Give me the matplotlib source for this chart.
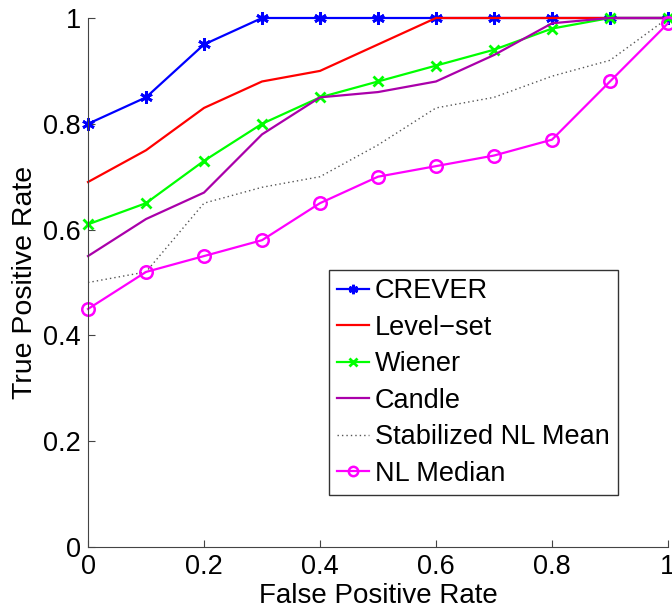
import matplotlib
matplotlib.use("Agg")
import matplotlib.pyplot as plt

plt.rcParams['font.family'] = ['Liberation Sans', 'DejaVu Sans']

fpr = [0.0, 0.1, 0.2, 0.3, 0.4, 0.5, 0.6, 0.7, 0.8, 0.9, 1.0]

crever = [0.80, 0.85, 0.95, 1.00, 1.00, 1.00, 1.00, 1.00, 1.00, 1.00, 1.00]
level_set = [0.69, 0.75, 0.83, 0.88, 0.90, 0.95, 1.00, 1.00, 1.00, 1.00, 1.00]
wiener = [0.61, 0.65, 0.73, 0.80, 0.85, 0.88, 0.91, 0.94, 0.98, 1.00, 1.00]
candle = [0.55, 0.62, 0.67, 0.78, 0.85, 0.86, 0.88, 0.93, 0.99, 1.00, 1.00]
stab_nl_mean = [0.50, 0.52, 0.65, 0.68, 0.70, 0.76, 0.83, 0.85, 0.89, 0.92, 1.00]
nl_median = [0.45, 0.52, 0.55, 0.58, 0.65, 0.70, 0.72, 0.74, 0.77, 0.88, 0.99]

ticks = [0, 0.2, 0.4, 0.6, 0.8, 1]
tick_labels = ["0", "0.2", "0.4", "0.6", "0.8", "1"]

fig = plt.figure(figsize=(6.72, 6.08), dpi=100)
ax = fig.add_axes([0.131, 0.1003, 0.863, 0.8701])

fs = 19.5
lw = 1.6
ax.plot(fpr, crever, color='#0000ff', lw=lw, marker=(6, 2, 0), ms=9, mew=2.0,
        label='CREVER', clip_on=False)
ax.plot(fpr, level_set, color='#ff0000', lw=lw, label='Level\u2212set', clip_on=False)
ax.plot(fpr, wiener, color='#00ff00', lw=lw, marker='x', ms=7, mew=2.0,
        label='Wiener', clip_on=False)
ax.plot(fpr, candle, color='#aa00aa', lw=lw, label='Candle', clip_on=False)
ax.plot(fpr, stab_nl_mean, color='#555555', lw=1.0, ls=(0, (1, 2.2)),
        label='Stabilized NL Mean', clip_on=False)
ax.plot(fpr, nl_median, color='#ff00ff', lw=lw, marker='o', ms=9, mew=1.8,
        mfc='none', label='NL Median', clip_on=False)

ax.set_xlim(0, 1)
ax.set_ylim(0, 1)
ax.set_xticks(ticks)
ax.set_xticklabels(tick_labels)
ax.set_yticks(ticks)
ax.set_yticklabels(tick_labels)
ax.tick_params(direction='in', length=5, width=0.8, labelsize=fs, pad=5,
               colors='#444444', labelcolor='black')
ax.spines['top'].set_visible(False)
ax.spines['right'].set_visible(False)
for s in ('left', 'bottom'):
    ax.spines[s].set_color('#444444')
    ax.spines[s].set_linewidth(0.8)

ax.set_xlabel('False Positive Rate', fontsize=20, labelpad=2)
ax.set_ylabel('True Positive Rate', fontsize=20.5, labelpad=4)

leg = ax.legend(loc='upper left', bbox_to_anchor=(0.415, 0.5236), fontsize=fs,
                markerscale=0.75, handlelength=1.2, handletextpad=0.2,
                borderpad=0.3, labelspacing=0.39, frameon=True, fancybox=False,
                edgecolor='black', borderaxespad=0, numpoints=1)
leg.get_frame().set_linewidth(1.0)

fig.savefig('out.png', dpi=100)
